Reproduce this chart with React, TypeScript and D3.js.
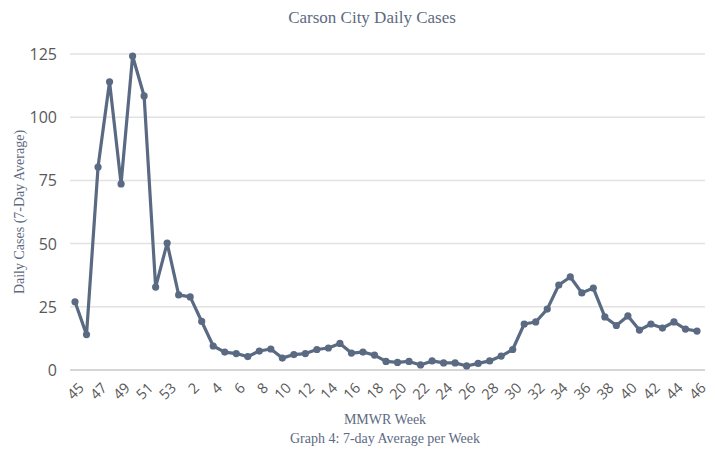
import * as d3 from "d3";

const weeks = [
  "45", "46", "47", "48", "49", "50", "51", "52", "53",
  "1", "2", "3", "4", "5", "6", "7", "8", "9", "10",
  "11", "12", "13", "14", "15", "16", "17", "18", "19", "20",
  "21", "22", "23", "24", "25", "26", "27", "28", "29", "30",
  "31", "32", "33", "34", "35", "36", "37", "38", "39", "40",
  "41", "42", "43", "44", "45", "46",
];
const cases = [
  27, 14, 80.3, 114, 73.6, 124.2, 108.4, 32.8, 50.2,
  29.7, 28.9, 19.2, 9.5, 7.1, 6.5, 5.3, 7.5, 8.3, 4.7,
  6.1, 6.5, 8.1, 8.7, 10.5, 6.7, 7.1, 5.9, 3.4, 3,
  3.4, 2, 3.6, 2.8, 2.8, 1.6, 2.6, 3.6, 5.5, 8.1,
  18.2, 19, 24.1, 33.6, 36.8, 30.5, 32.4, 21, 17.6, 21.4,
  15.8, 18.2, 16.6, 19, 16.2, 15.4,
];
const yTicks = [0, 25, 50, 75, 100, 125];

export default function App() {
  const width = 715;
  const height = 450;
  const color = "#5a6a82";
  const idx = d3.range(weeks.length);

  const x = d3.scaleLinear().domain([0, weeks.length - 1]).range([75, 697]);
  const y = d3.scaleLinear().domain([0, 125]).range([370, 54]);

  const line = d3
    .line<number>()
    .x((i) => x(i))
    .y((i) => y(cases[i]));

  return (
    <svg
      width={width}
      height={height}
      style={{ position: "absolute", left: 0, top: 0, background: "#fff" }}
    >
      <text
        x={372}
        y={23}
        textAnchor="middle"
        fontFamily="Liberation Serif"
        fontSize={17}
        fill="#5d6a82"
      >
        Carson City Daily Cases
      </text>

      {yTicks.map((t) => (
        <g key={t}>
          <line
            x1={70}
            x2={705}
            y1={y(t)}
            y2={y(t)}
            stroke={t === 0 ? "#c8c8c8" : "#e2e2e2"}
            strokeWidth={1.5}
          />
          <text
            x={57}
            y={y(t)}
            textAnchor="end"
            dominantBaseline="central"
            fontFamily="Open Sans"
            fontSize={16}
            fill="#595959"
          >
            {t}
          </text>
        </g>
      ))}

      {idx
        .filter((i) => i % 2 === 0)
        .map((i) => (
          <text
            key={i}
            transform={`translate(${x(i) + 6},${385}) rotate(-45)`}
            textAnchor="end"
            dominantBaseline="central"
            fontFamily="Open Sans"
            fontSize={14.5}
            fill="#595959"
          >
            {weeks[i]}
          </text>
        ))}

      <path
        d={line(idx) ?? ""}
        fill="none"
        stroke={color}
        strokeWidth={3.2}
        strokeLinejoin="round"
      />
      {idx.map((i) => (
        <circle key={i} cx={x(i)} cy={y(cases[i])} r={3.6} fill={color} />
      ))}

      <text
        transform={`translate(24,${212}) rotate(-90)`}
        textAnchor="middle"
        fontFamily="Liberation Serif"
        fontSize={14}
        fill="#5d6a82"
      >
        Daily Cases (7-Day Average)
      </text>
      <text
        x={385}
        y={424}
        textAnchor="middle"
        fontFamily="Liberation Serif"
        fontSize={14}
        fill="#5d6a82"
      >
        MMWR Week
      </text>
      <text
        x={385}
        y={443}
        textAnchor="middle"
        fontFamily="Liberation Serif"
        fontSize={14}
        fill="#5d6a82"
      >
        Graph 4: 7-day Average per Week
      </text>
    </svg>
  );
}
